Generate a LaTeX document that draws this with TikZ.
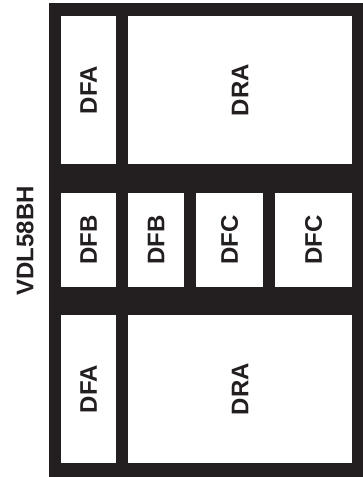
\documentclass[tikz,border=0pt]{standalone}
\usepackage{fontspec}
\setmainfont{Liberation Sans}
\definecolor{frame}{RGB}{35,31,32}
\begin{document}
\begin{tikzpicture}[x=1pt, y=-1pt,
  font=\bfseries\fontsize{24}{24}\selectfont,
  cell/.style 2 args={fill=white, inner sep=0pt, rotate=90,
               minimum width=#1, minimum height=#2, text=frame}
]
  \useasboundingbox (0,0) rectangle (363,477);
  \fill[frame] (49,3) rectangle (363,477);
  % top row
  \node[cell={148}{55}]  (topA) at (88.5, 90)  {DFA};
  \node[cell={148}{224}] (topR) at (240, 90)   {DRA};
  % middle row
  \node[cell={94}{55}]   (midB1) at (88.5, 240) {DFB};
  \node[cell={94}{56}]   (midB2) at (156, 240)  {DFB};
  \node[cell={94}{67}]   (midC1) at (229.5, 240) {DFC};
  \node[cell={94}{77}]   (midC2) at (313.5, 240) {DFC};
  % bottom row
  \node[cell={148}{55}]  (botA) at (88.5, 389) {DFA};
  \node[cell={148}{224}] (botR) at (240, 389)  {DRA};
  \node[rotate=90, text=frame] (name) at (25, 241) {VDL58BH};
\end{tikzpicture}
\end{document}
